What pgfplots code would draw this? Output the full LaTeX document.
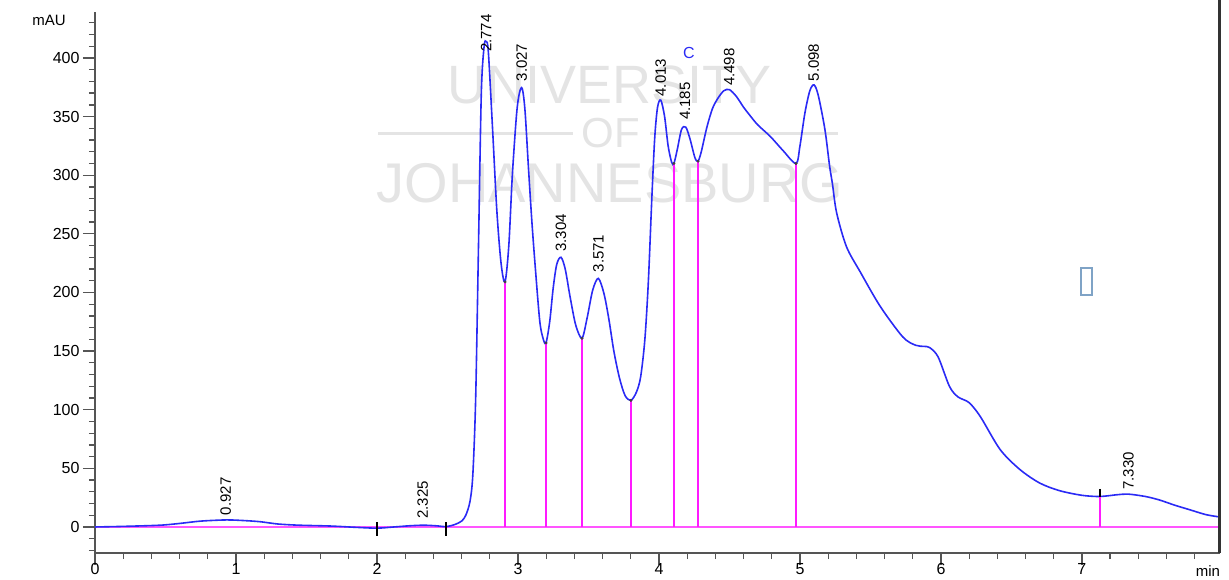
\documentclass[border=0pt]{standalone}
\usepackage{fontspec}
\setmainfont{Liberation Sans}
\usepackage{pgfplots}
\pgfplotsset{compat=1.18}
\definecolor{curve}{HTML}{2A2AF5}
\definecolor{mag}{HTML}{FF1AFF}
\definecolor{magbase}{HTML}{FF55FF}
\definecolor{wm}{HTML}{E4E4E4}
\definecolor{axisgray}{HTML}{555555}
\definecolor{boxc}{HTML}{7FA3C6}
\begin{document}
\begin{tikzpicture}
\begin{axis}[
 scale only axis, width=1125pt, height=541pt,
 xmin=0, xmax=7.979, ymin=-22.2, ymax=439.2,
 axis x line=bottom, axis y line=left,
 axis line style={-, axisgray, line width=1.8pt},
 xtick={0,1,2,3,4,5,6,7},
 minor xtick={0.2,0.4,0.6,0.8,1.2,1.4,1.6,1.8,2.2,2.4,2.6,2.8,3.2,3.4,3.6,3.8,4.2,4.4,4.6,4.8,5.2,5.4,5.6,5.8,6.2,6.4,6.6,6.8,7.2,7.4,7.6,7.8},
 ytick={0,50,100,150,200,250,300,350,400},
 minor ytick={-20,-10,10,20,30,40,60,70,80,90,110,120,130,140,160,170,180,190,210,220,230,240,260,270,280,290,310,320,330,340,360,370,380,390,410,420,430},
 tick align=outside,
 major tick length=12pt, minor tick length=6pt,
 tick style={axisgray, line width=1.3pt},
 tick label style={font=\fontsize{16}{16}\selectfont, text=black},
 xticklabel style={yshift=5pt},
 /pgf/number format/assume math mode=true,
 clip=false,
]
% watermark
\node[text=wm, font=\fontsize{54}{54}\selectfont] at (axis cs:3.652,377) {UNIVERSITY};
\node[text=wm, font=\fontsize{42}{42}\selectfont] at (axis cs:3.66,336) {OF};
\draw[wm, line width=3pt] (axis cs:2.007,336) -- (axis cs:3.39,336);
\draw[wm, line width=3pt] (axis cs:3.936,336) -- (axis cs:5.27,336);
\node[text=wm, font=\fontsize{56}{56}\selectfont] at (axis cs:3.652,293) {JOHANNESBURG};

% baseline
\addplot[magbase, line width=2.5pt] coordinates {(0,0) (7.979,0)};

% signal
\addplot[curve, line width=1.6pt, smooth, tension=0.5] coordinates {
(0.00,0) (0.20,0.5) (0.46,1.5) (0.60,3) (0.75,5) (0.93,6) (1.05,5.5) (1.17,4.5)
(1.30,2.5) (1.45,1.5) (1.67,0.8) (1.85,-0.3) (2.00,-1) (2.12,0) (2.23,1) (2.33,1.5)
(2.42,1) (2.49,0.3) (2.55,2) (2.60,5) (2.63,10) (2.66,22) (2.68,45) (2.70,110)
(2.72,240) (2.74,370) (2.76,410) (2.775,414) (2.79,405) (2.82,339) (2.85,270) (2.88,225)
(2.908,209) (2.935,240) (2.96,300) (2.99,352) (3.01,370) (3.03,374) (3.05,355) (3.075,305)
(3.10,258) (3.125,218) (3.155,175) (3.18,160) (3.199,157) (3.225,175) (3.25,204) (3.275,224)
(3.305,230) (3.335,220) (3.37,196) (3.41,172) (3.454,161) (3.49,178) (3.53,202) (3.57,212)
(3.61,199) (3.645,177) (3.68,150) (3.72,127) (3.76,112) (3.801,108) (3.84,115) (3.87,128)
(3.90,160) (3.925,210) (3.95,282) (3.97,332) (3.99,358) (4.013,364) (4.04,350) (4.065,325)
(4.09,311) (4.106,310) (4.13,322) (4.16,339) (4.19,341) (4.22,331) (4.255,315) (4.277,312)
(4.30,320) (4.34,341) (4.38,357) (4.42,366) (4.46,372) (4.50,373) (4.55,367) (4.60,358)
(4.645,351) (4.70,343) (4.79,333) (4.88,321) (4.972,310) (5.00,325) (5.035,353) (5.07,372)
(5.10,377) (5.13,368) (5.177,339) (5.21,308) (5.23,293) (5.26,268) (5.33,239) (5.43,217)
(5.57,188) (5.73,162) (5.82,155) (5.88,154) (5.92,153) (5.98,145) (6.06,120) (6.12,111)
(6.20,106) (6.28,94) (6.42,66) (6.56,49) (6.70,37.5) (6.84,31) (7.00,27) (7.128,26)
(7.25,27.5) (7.33,28) (7.45,26) (7.55,23) (7.66,18.5) (7.77,14.5) (7.88,10.5) (7.979,8.5)
};

% drop lines
\addplot[mag, line width=2pt, ycomb] coordinates {
(2.908,209) (3.199,157) (3.454,161) (3.801,108) (4.106,310) (4.277,312) (4.972,310) (7.128,26)
};
\addplot[only marks, mark=*, mark size=1.3pt, black!75] coordinates {
(2.908,209) (3.199,157) (3.454,161) (3.801,108) (4.106,310) (4.277,312) (4.972,310)
};
\addplot[only marks, mark=|, mark size=4pt, black, line width=1.2pt] coordinates {(7.128,29)};
\addplot[only marks, mark=|, mark size=7pt, black, line width=1.2pt] coordinates {(2,-2) (2.489,-2)};

% peak labels
\begin{scope}[every node/.style={rotate=90, anchor=west, inner sep=0pt, font=\fontsize{15}{15}\selectfont, text=black}]
\node at (axis cs:0.927,10) {0.927};
\node at (axis cs:2.325,7) {2.325};
\node at (axis cs:2.774,405) {2.774};
\node at (axis cs:3.027,380) {3.027};
\node at (axis cs:3.304,234.5) {3.304};
\node at (axis cs:3.571,217) {3.571};
\node at (axis cs:4.013,367) {4.013};
\node at (axis cs:4.185,347) {4.185};
\node at (axis cs:4.498,376) {4.498};
\node at (axis cs:5.098,380) {5.098};
\node at (axis cs:7.330,31.5) {7.330};
\end{scope}

\node[text=curve, font=\fontsize{16}{16}\selectfont] at (axis cs:4.213,404) {C};
\draw[boxc, line width=1.5pt] (axis cs:6.993,198) rectangle (axis cs:7.071,221);
\node[font=\fontsize{15}{15}\selectfont, text=black] at (axis cs:-0.326,432) {mAU};
\node[font=\fontsize{15}{15}\selectfont, text=black] at (axis cs:7.894,-38) {min};
\draw[black!80, line width=3pt] (rel axis cs:1,0) -- (rel axis cs:1,1.03);
\end{axis}
\pgfresetboundingbox
\path[use as bounding box] (-95pt,-26pt) rectangle (1134pt,553pt);
\end{tikzpicture}
\end{document}
